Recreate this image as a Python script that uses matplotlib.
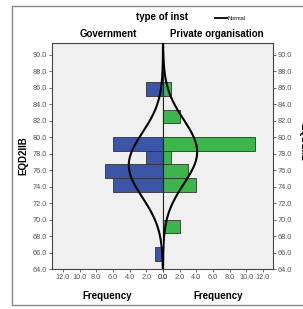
import numpy as np
import matplotlib.pyplot as plt
from matplotlib.patches import Rectangle

plt.rcParams['font.family'] = ['Liberation Sans', 'DejaVu Sans']

# histogram bins (width 5/3, starting at 65) and counts per group
bin_edges = [65.0, 66.67, 68.33, 70.0, 71.67, 73.33, 75.0, 76.67, 78.33, 80.0, 81.67, 83.33, 85.0, 86.67]
gov_counts = [1, 0, 0, 0, 0, 6, 7, 2, 6, 0, 0, 0, 2]
priv_counts = [0, 0, 2, 0, 0, 4, 3, 1, 11, 0, 2, 0, 1]

# normal curve parameters
gov_mean, gov_sd = 76.6, 3.9
priv_mean, priv_sd = 78.2, 3.9
n_total = 24

y_ticks = [64, 66, 68, 70, 72, 74, 76, 78, 80, 82, 84, 86, 88, 90]
x_ticks = [0, 2, 4, 6, 8, 10, 12]

blue = '#3b55a8'
green = '#3cb54a'
bg = '#f0f0f0'
W, H = 303, 309


def normal_curve(ys, mean, sd, width):
    return n_total * width / (sd * np.sqrt(2 * np.pi)) * np.exp(-0.5 * ((ys - mean) / sd) ** 2)


fig = plt.figure(figsize=(W / 100, H / 100), dpi=100)
fig.patch.set_facecolor('white')

# outer frame
fig.patches.append(Rectangle((12 / W, 1 - 305 / H), 1.2, (305 - 6) / H,
                             transform=fig.transFigure, fill=False,
                             edgecolor='#888888', lw=1.0))

left, mid, right = 52 / W, 163 / W, 273 / W
bottom, top = 1 - 269 / H, 1 - 43 / H
ax_l = fig.add_axes([left, bottom, mid - left, top - bottom])
ax_r = fig.add_axes([mid, bottom, right - mid, top - bottom])

edges = np.array(bin_edges)
centers = (edges[:-1] + edges[1:]) / 2
widths = np.diff(edges)
ys = np.linspace(64, 91.4, 300)

for ax, counts, color, mean, sd in [(ax_l, gov_counts, blue, gov_mean, gov_sd),
                                    (ax_r, priv_counts, green, priv_mean, priv_sd)]:
    ax.set_facecolor(bg)
    for c, w, v in zip(centers, widths, counts):
        if v > 0:
            ax.barh(c, v, height=w, color=color, edgecolor='#333333', lw=0.6, zorder=2)
    ax.plot(normal_curve(ys, mean, sd, widths[0]), ys, color='black', lw=1.5, zorder=3)
    ax.set_ylim(64, 91.4)
    ax.set_yticks(y_ticks)
    ax.set_yticklabels([f'{t:.1f}' for t in y_ticks])
    ax.set_xticks(x_ticks)
    ax.set_xticklabels([f'{t:.1f}' for t in x_ticks])
    ax.tick_params(labelsize=5.3, labelcolor='#555555', length=2.5, width=0.6,
                   color='#555555', pad=1)
    for s in ax.spines.values():
        s.set_color('#444444')
        s.set_linewidth(0.8)
    ax.set_xlabel('Frequency', fontsize=7, fontweight='bold', labelpad=7)

ax_l.set_xlim(13.3, 0)
ax_r.set_xlim(0, 13.2)
ax_r.yaxis.tick_right()
ax_l.spines['right'].set_color('#222222')
ax_r.spines['left'].set_color('#222222')

ax_l.set_ylabel('EQD2IIB', fontsize=7, fontweight='bold', labelpad=3)
fig.text(298 / W, 1 - 142 / H, 'EQD2IIB', fontsize=7, fontweight='bold',
         rotation=270, ha='left', va='center')

# headings
fig.text(162 / W, 1 - 17 / H, 'type of inst', fontsize=7, fontweight='bold',
         ha='center', va='center')
fig.text(108 / W, 1 - 34 / H, 'Government', fontsize=7, fontweight='bold',
         ha='center', va='center')
fig.text(217 / W, 1 - 34 / H, 'Private organisation', fontsize=7, fontweight='bold',
         ha='center', va='center')

# legend
fig.lines.append(plt.Line2D([215 / W, 227 / W], [1 - 18 / H, 1 - 18 / H],
                            transform=fig.transFigure, color='black', lw=1.3))
fig.text(228 / W, 1 - 18 / H, 'Normal', fontsize=4, ha='left', va='center')

fig.savefig('out.png', dpi=100)
